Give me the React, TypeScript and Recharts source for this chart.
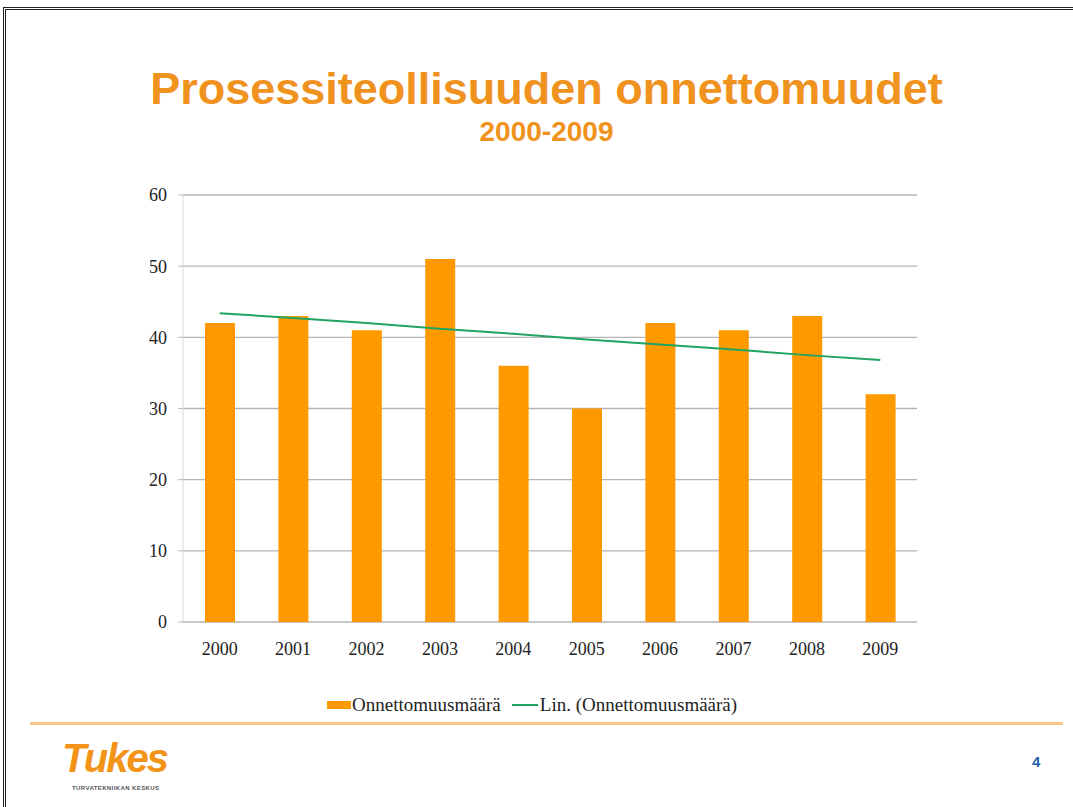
import { ComposedChart, Bar, Line, XAxis, YAxis, CartesianGrid } from "recharts";

// Accident counts per year
const years = ["2000", "2001", "2002", "2003", "2004", "2005", "2006", "2007", "2008", "2009"];
const accidents = [42, 43, 41, 51, 36, 30, 42, 41, 43, 32];
// Linear trend (Excel "Lin.") as read at each year
const trend = [43.4, 42.7, 42.0, 41.2, 40.5, 39.7, 39.0, 38.3, 37.5, 36.8];
const yTicks = [0, 10, 20, 30, 40, 50, 60];
const boundaryTicks = [0, 1, 2, 3, 4, 5, 6, 7, 8, 9, 10];

const data = years.map((year, i) => ({ year, count: accidents[i], trend: trend[i] }));

const ORANGE = "#FF9900";
const TITLE = "#F0921E";
const GREEN = "#1FA463";
const serif = "'Liberation Serif', 'Times New Roman', serif";
const sans = "'Liberation Sans', Arial, sans-serif";

export default function App() {
  return (
    <div
      style={{
        position: "absolute",
        left: 0,
        top: 0,
        width: 1073,
        height: 807,
        background: "#fff",
        overflow: "hidden",
      }}
    >
      {/* slide frame: only top and left edges visible */}
      <div
        style={{
          position: "absolute",
          left: 3,
          top: 7,
          width: 1080,
          height: 820,
          borderTop: "3px double #222",
          borderLeft: "3px double #222",
          boxSizing: "border-box",
        }}
      />

      <div
        style={{
          position: "absolute",
          top: 64,
          left: 0,
          width: 1093,
          textAlign: "center",
          fontFamily: sans,
          fontWeight: "bold",
          fontSize: 45,
          color: TITLE,
          lineHeight: "50px",
        }}
      >
        Prosessiteollisuuden onnettomuudet
      </div>
      <div
        style={{
          position: "absolute",
          top: 116,
          left: 0,
          width: 1093,
          textAlign: "center",
          fontFamily: sans,
          fontWeight: "bold",
          fontSize: 28,
          color: TITLE,
          lineHeight: "32px",
        }}
      >
        2000-2009
      </div>

      <div style={{ position: "absolute", left: 0, top: 0 }}>
        <ComposedChart
          width={1073}
          height={807}
          data={data}
          margin={{ top: 195, right: 156, left: 123, bottom: 145 }}
        >
          <CartesianGrid vertical={false} stroke="#b4b4b4" strokeWidth={1.3} />
          <XAxis
            xAxisId="edges"
            type="number"
            domain={[0, 10]}
            ticks={boundaryTicks}
            tick={false}
            height={0}
            tickSize={6}
            axisLine={{ stroke: "#aaaaaa", strokeWidth: 1.3 }}
            tickLine={{ stroke: "#bbbbbb" }}
          />
          <XAxis
            dataKey="year"
            height={40}
            axisLine={false}
            tickLine={false}
            tickSize={6}
            tickMargin={14}
            tick={{ fill: "#222", fontSize: 18, fontFamily: serif }}
          />
          <YAxis
            width={60}
            domain={[0, 60]}
            ticks={yTicks}
            tickSize={5}
            tickMargin={11}
            axisLine={{ stroke: "#d8d8d8" }}
            tickLine={{ stroke: "#bbbbbb" }}
            tick={{ fill: "#222", fontSize: 18, fontFamily: serif }}
          />
          <Bar dataKey="count" fill={ORANGE} barSize={30} isAnimationActive={false} />
          <Line
            dataKey="trend"
            stroke={GREEN}
            strokeWidth={2}
            dot={false}
            isAnimationActive={false}
          />
        </ComposedChart>
      </div>

      {/* legend */}
      <div
        style={{
          position: "absolute",
          top: 694,
          left: 327,
          display: "flex",
          alignItems: "center",
          fontFamily: serif,
          fontSize: 19,
          color: "#222",
          whiteSpace: "nowrap",
        }}
      >
        <span style={{ display: "inline-block", width: 24, height: 8, background: ORANGE, marginRight: 1 }} />
        <span>Onnettomuusmäärä</span>
        <span
          style={{ display: "inline-block", width: 26, height: 2, background: GREEN, marginLeft: 11, marginRight: 2 }}
        />
        <span>Lin. (Onnettomuusmäärä)</span>
      </div>

      {/* separator */}
      <div
        style={{
          position: "absolute",
          left: 30,
          top: 722,
          width: 1033,
          height: 3,
          background: "#FAC587",
        }}
      />

      {/* logo */}
      <div
        style={{
          position: "absolute",
          left: 62,
          top: 736,
          fontFamily: sans,
          fontStyle: "italic",
          fontWeight: "bold",
          fontSize: 40,
          color: "#F39318",
          letterSpacing: -2,
          lineHeight: "44px",
        }}
      >
        Tukes
      </div>
      <div
        style={{
          position: "absolute",
          left: 72,
          top: 785,
          fontFamily: sans,
          fontWeight: "bold",
          fontSize: 6,
          color: "#555",
          letterSpacing: 0.4,
        }}
      >
        TURVATEKNIIKAN KESKUS
      </div>

      <div
        style={{
          position: "absolute",
          left: 1032,
          top: 753,
          fontFamily: sans,
          fontWeight: "bold",
          fontSize: 15,
          color: "#1F5FA8",
        }}
      >
        4
      </div>
    </div>
  );
}
